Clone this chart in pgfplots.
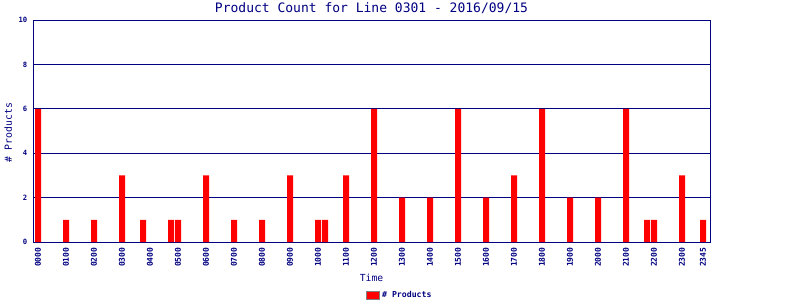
\documentclass[border=0pt]{standalone}
\usepackage{pgfplots}
\pgfplotsset{compat=1.18}
\usepackage{fontspec}
\setmainfont{DejaVu Sans Mono}
\definecolor{navy}{HTML}{000080}
\begin{document}
\begin{tikzpicture}
\useasboundingbox (0,0) rectangle (800pt,300pt);
\begin{axis}[
  at={(33pt,58pt)}, anchor=south west,
  scale only axis, width=677pt, height=222pt,
  xmin=-0.18, xmax=24, ymin=0, ymax=10,
  axis line style={navy, line width=0.9pt},
  ytick={0,2,4,6,8,10},
  ymajorgrids, grid style={navy, line width=0.9pt},
  major tick length=0pt,
  xtick={0,1,2,3,4,5,6,7,8,9,10,11,12,13,14,15,16,17,18,19,20,21,22,23,23.75},
  xticklabels={0000,0100,0200,0300,0400,0500,0600,0700,0800,0900,1000,1100,1200,1300,1400,1500,1600,1700,1800,1900,2000,2100,2200,2300,2345},
  /pgf/number format/assume math mode=true,
  xticklabel style={yshift=-5.5pt, rotate=90, anchor=east, font=\fontsize{8}{9}\selectfont\bfseries, text=navy, inner sep=0pt},
  yticklabel style={xshift=-5.5pt, font=\fontsize{7.2}{8}\selectfont\bfseries, text=navy, inner sep=0pt},
  every axis title shift=0pt,
  title={Product Count for Line 0301 - 2016/09/15},
  title style={at={(axis description cs:0.5,1.033)}, anchor=base, yshift=0pt, font=\fontsize{13}{14}\selectfont, text=navy},
  xlabel={Time},
  xlabel style={at={(axis description cs:0.5,-0.162)}, anchor=center, font=\fontsize{9.7}{10}\selectfont, text=navy},
  ylabel={\# Products},
  ylabel style={at={(axis description cs:-0.0365,0.493)}, anchor=center, rotate=0, font=\fontsize{9.8}{10}\selectfont, text=navy},
  legend style={at={(axis description cs:0.542,-0.239)}, anchor=center, draw=none, fill=none, font=\fontsize{8.2}{9}\selectfont\bfseries, text=navy, inner sep=0pt},
  legend image code/.code={\draw[fill=red, draw=gray, line width=0.8pt] (0pt,-4pt) rectangle (13pt,4pt);},
  clip=false,
]
\addplot[ybar, bar width=6pt, fill=red, draw=none] coordinates {
(0,6) (1,1) (2,1) (3,3) (3.75,1) (4.75,1) (5,1) (6,3) (7,1) (8,1) (9,3)
(10,1) (10.25,1) (11,3) (12,6) (13,2) (14,2) (15,6) (16,2) (17,3) (18,6)
(19,2) (20,2) (21,6) (21.75,1) (22,1) (23,3) (23.75,1)
};
\addlegendentry{\# Products}
\end{axis}
\end{tikzpicture}
\end{document}
